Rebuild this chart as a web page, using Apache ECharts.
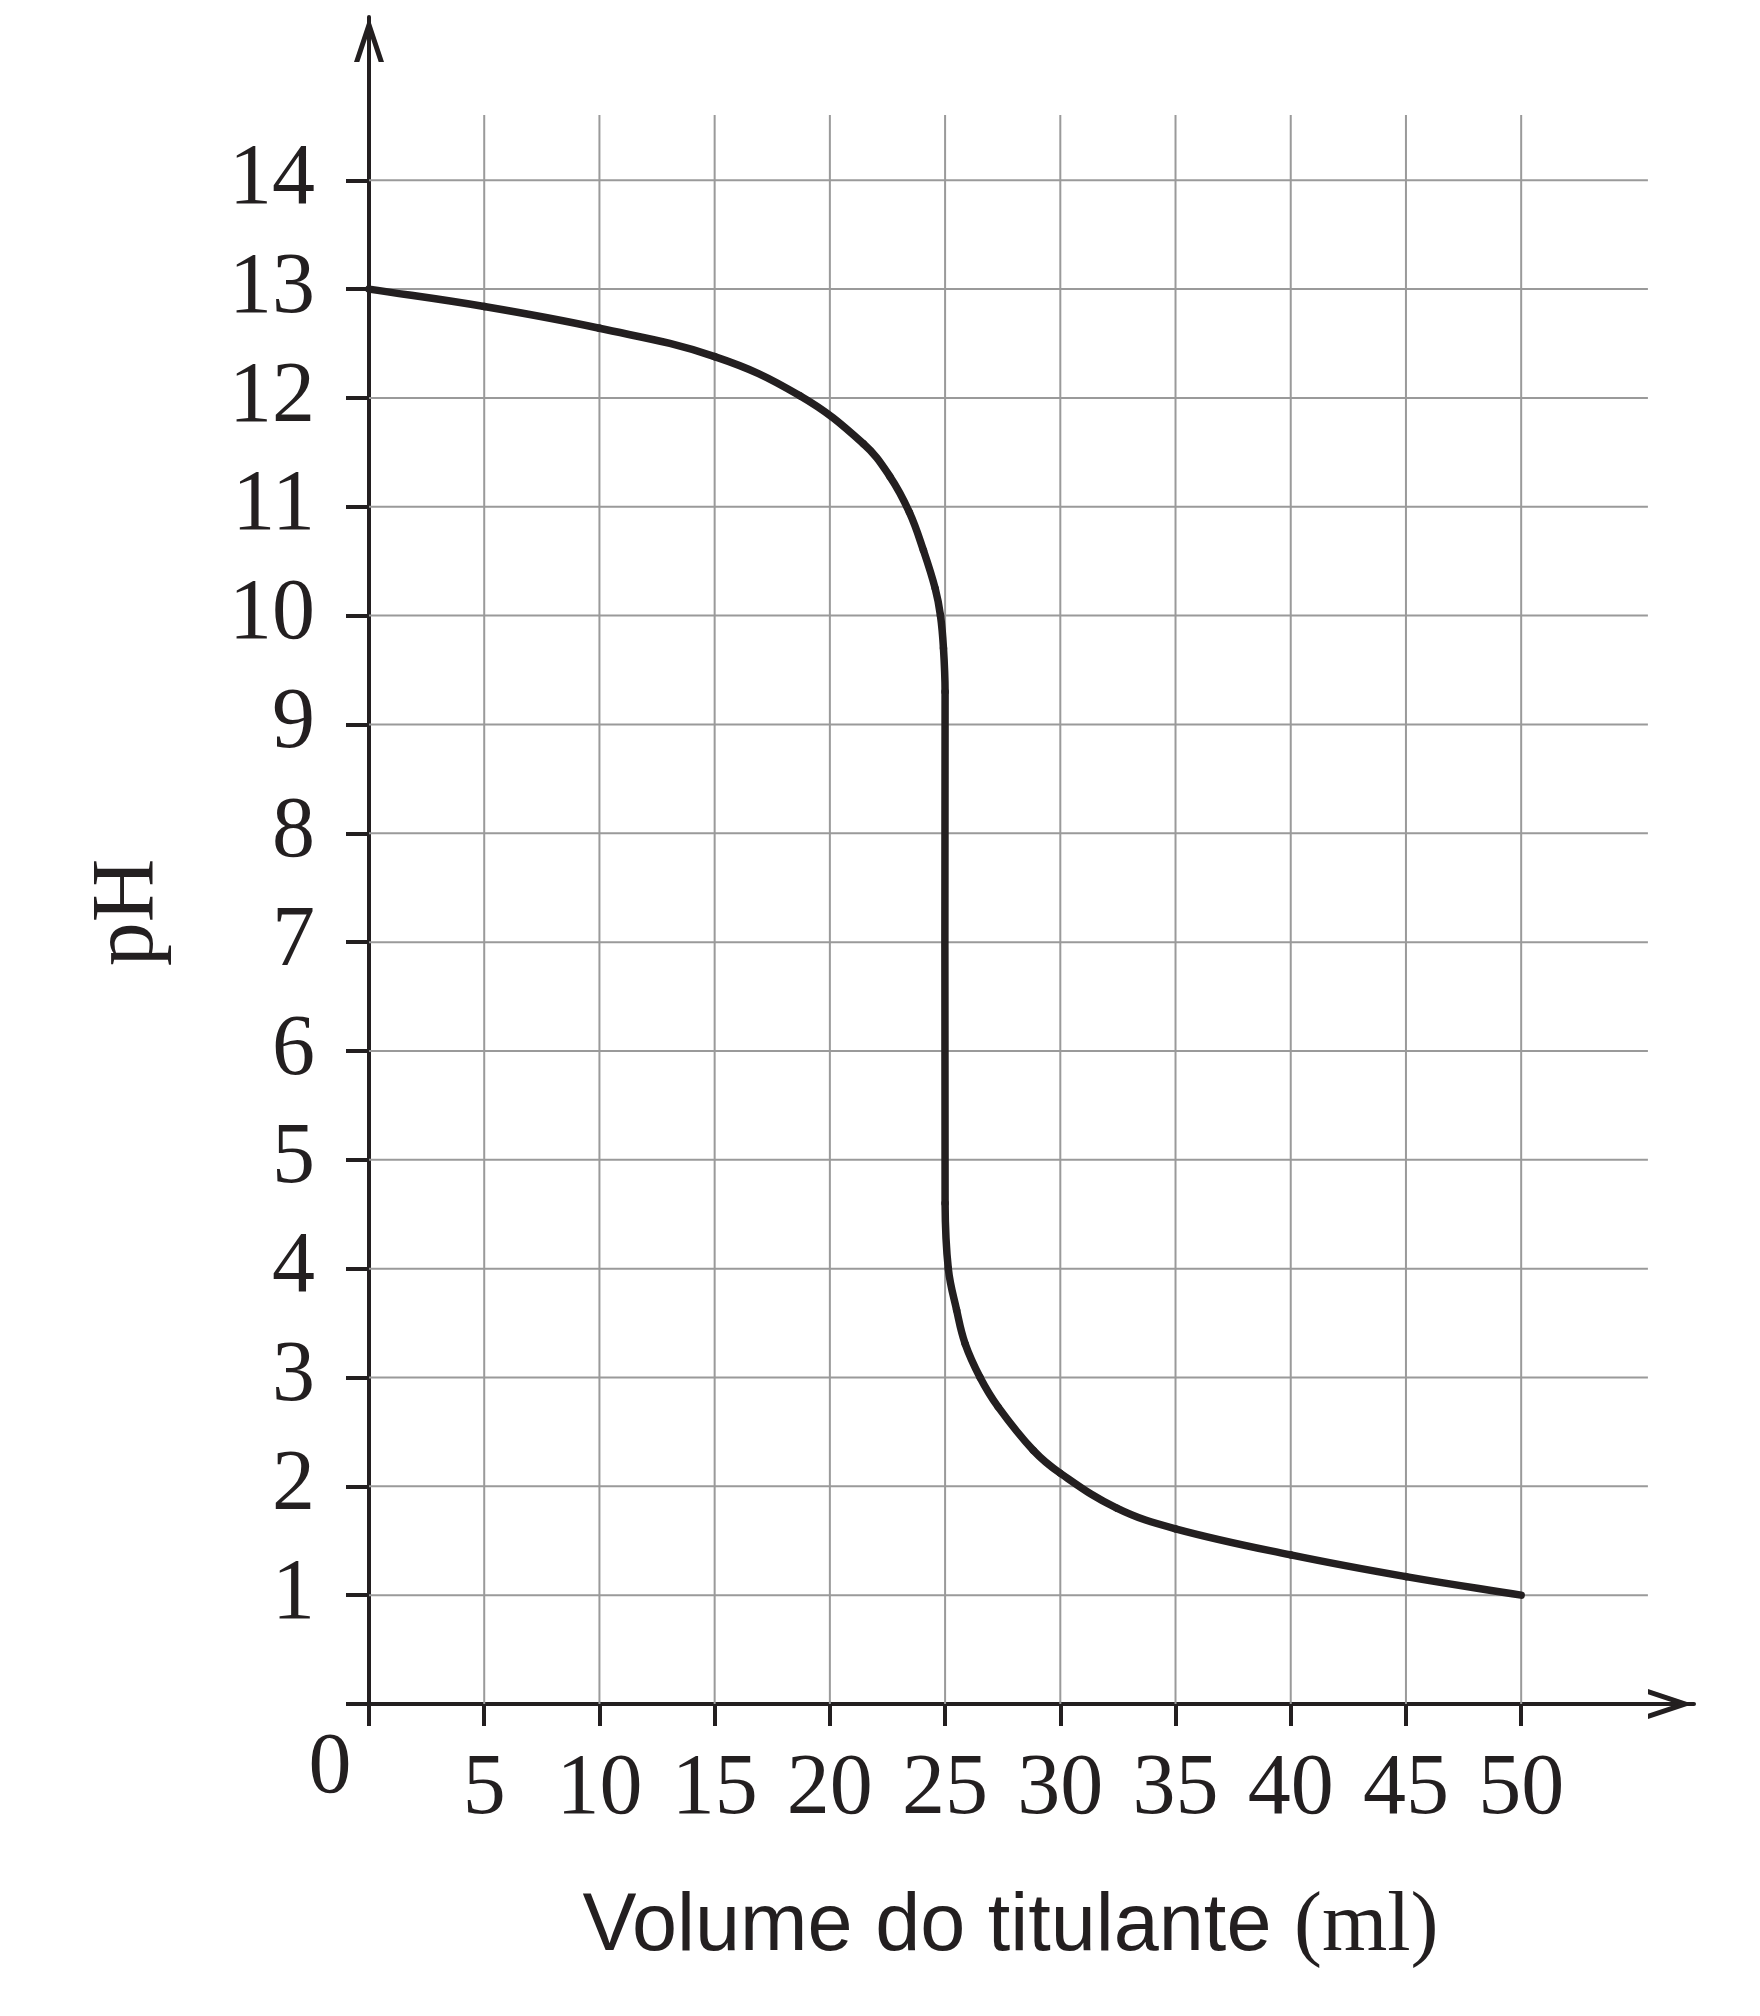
<!DOCTYPE html>
<html><head><meta charset="utf-8">
<script src="https://cdn.jsdelivr.net/npm/echarts@6/dist/echarts.min.js"></script>
<style>html,body{margin:0;padding:0;background:#fff}#c{width:1760px;height:2016px}</style>
</head><body><div id="c"></div>
<script>
// ---- data ----
const volume = [0, 5, 10, 15, 18.7, 21.45, 22.6, 23.45, 24.06, 24.57, 24.8, 24.93, 25, 25, 25.14, 25.5, 25.87, 26.52, 27.3, 28.83, 30, 32.45, 35, 40, 45, 50];
const pH     = [13, 12.84, 12.64, 12.38, 12.02, 11.58, 11.28, 10.95, 10.6, 10.25, 10.0, 9.7, 9.3, 4.6, 4.0, 3.62, 3.31, 3.0, 2.73, 2.33, 2.12, 1.8, 1.61, 1.37, 1.17, 1.0];

const xTickValues  = [0, 5, 10, 15, 20, 25, 30, 35, 40, 45, 50];
const xLabelValues = [0, 5, 10, 15, 20, 25, 30, 35, 40, 45, 50];
const yTickValues  = [0, 1, 2, 3, 4, 5, 6, 7, 8, 9, 10, 11, 12, 13, 14];
const yLabelValues = [1, 2, 3, 4, 5, 6, 7, 8, 9, 10, 11, 12, 13, 14];
const gridVolumes  = [5, 10, 15, 20, 25, 30, 35, 40, 45, 50];
const gridPHs      = [1, 2, 3, 4, 5, 6, 7, 8, 9, 10, 11, 12, 13, 14];
const gridVolumeEnd = 55.5;
const gridPHEnd = 14.6;
const volumeMax = 57.5;
const pHMax = 15.5;
const xName = 'Volume do titulante ';
const xUnit = '(ml)';
const yName = 'pH';

// ---- chart ----
const INK = '#231f20';
const GRIDC = '#9a9a9a';
const arrowPath = 'path://M15,0L30,45L24.7,45L15,15.8L5.3,45L0,45Z';
const serif = '"Liberation Serif", "DejaVu Serif", serif';
const SMOOTH = 0.4;

function renderCurveSegment(params, api) {
  const n = volume.length;
  const i = params.dataIndex;
  if (i >= n - 1) return null;
  const P = function (k) {
    const j = Math.max(0, Math.min(n - 1, k));
    return api.coord([volume[j], pH[j]]);
  };
  const p0 = P(i - 1), p1 = P(i), p2 = P(i + 1), p3 = P(i + 2);
  function ctrl(prev, cur, next) {
    const vx = next[0] - prev[0], vy = next[1] - prev[1];
    const lp = Math.hypot(cur[0] - prev[0], cur[1] - prev[1]);
    const ln = Math.hypot(next[0] - cur[0], next[1] - cur[1]);
    const r = (lp + ln) > 0 ? ln / (lp + ln) : 0.5;
    return {
      out: [cur[0] + vx * SMOOTH * r, cur[1] + vy * SMOOTH * r],
      inn: [cur[0] - vx * SMOOTH * (1 - r), cur[1] - vy * SMOOTH * (1 - r)]
    };
  }
  const a = ctrl(p0, p1, p2);
  const b = ctrl(p1, p2, p3);
  return {
    type: 'bezierCurve',
    shape: {x1: p1[0], y1: p1[1], x2: p2[0], y2: p2[1],
            cpx1: a.out[0], cpy1: a.out[1], cpx2: b.inn[0], cpy2: b.inn[1]},
    style: {stroke: INK, fill: 'none', lineWidth: 7.5, lineCap: 'round'}
  };
}

const chart = echarts.init(document.getElementById('c'), null, {renderer: 'canvas'});
chart.setOption({
  animation: false,
  backgroundColor: '#fff',
  grid: {left: 369, right: 66, top: 17, bottom: 312, containLabel: false},
  xAxis: {
    type: 'value', min: 0, max: volumeMax,
    name: '{a|' + xName + '}{b|' + xUnit + '}',
    nameLocation: 'middle', nameGap: 182,
    nameTextStyle: {
      padding: [0, 42, 0, 0],
      rich: {
        a: {fontFamily: '"Liberation Sans", Arial, sans-serif', fontSize: 81, color: INK},
        b: {fontFamily: serif, fontSize: 84, color: INK}
      }
    },
    axisLine: {show: true, onZero: false, lineStyle: {color: INK, width: 4},
      symbol: ['none', arrowPath], symbolSize: [30, 47], symbolOffset: [0, -23.5]},
    axisTick: {show: true, inside: false, length: 22, customValues: xTickValues, lineStyle: {color: INK, width: 4}},
    axisLabel: {
      customValues: xLabelValues, margin: 22, color: INK,
      fontFamily: serif, fontSize: 86,
      formatter: function (v) { return v === 0 ? '{z|0}' : '{n|' + v + '}'; },
      rich: {
        z: {fontFamily: serif, fontSize: 86, color: INK, padding: [0, 78, 0, 0]},
        n: {fontFamily: serif, fontSize: 86, color: INK, padding: [21, 0, 0, 0]}
      }
    },
    splitLine: {show: false}
  },
  yAxis: {
    type: 'value', min: 0, max: pHMax,
    name: yName, nameLocation: 'middle', nameGap: 196, nameRotate: 90,
    nameTextStyle: {fontFamily: serif, fontSize: 88, color: INK, padding: [0, 104, 0, 0]},
    axisLine: {show: true, onZero: false, lineStyle: {color: INK, width: 4},
      symbol: ['none', arrowPath], symbolSize: [30, 45], symbolOffset: [0, -22.5]},
    axisTick: {show: true, inside: false, length: 23, customValues: yTickValues, lineStyle: {color: INK, width: 4}},
    axisLabel: {customValues: yLabelValues, margin: 54, color: INK, fontFamily: serif, fontSize: 86},
    splitLine: {show: false}
  },
  series: [
    {
      type: 'custom', silent: true, z: 1,
      data: gridVolumes.map(v => [v, 0]),
      renderItem: function (params, api) {
        const v = api.value(0);
        const p0 = api.coord([v, 0]);
        const p1 = api.coord([v, gridPHEnd]);
        return {type: 'line', shape: {x1: p0[0], y1: p0[1], x2: p1[0], y2: p1[1]},
          style: {stroke: GRIDC, lineWidth: 2}};
      }
    },
    {
      type: 'custom', silent: true, z: 1,
      data: gridPHs.map(p => [0, p]),
      renderItem: function (params, api) {
        const p = api.value(1);
        const p0 = api.coord([0, p]);
        const p1 = api.coord([gridVolumeEnd, p]);
        return {type: 'line', shape: {x1: p0[0], y1: p0[1], x2: p1[0], y2: p1[1]},
          style: {stroke: GRIDC, lineWidth: 2}};
      }
    },
    {
      name: 'pH', type: 'custom', silent: true, z: 3,
      encode: {x: 0, y: 1},
      data: volume.map((v, i) => [v, pH[i]]),
      renderItem: renderCurveSegment
    }
  ]
});
</script>
</body></html>
